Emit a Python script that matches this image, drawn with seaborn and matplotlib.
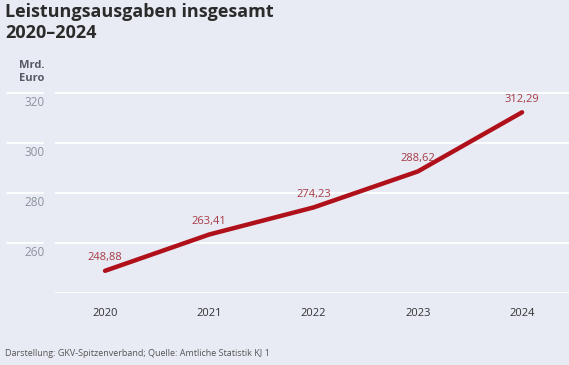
import matplotlib
matplotlib.use("Agg")
import matplotlib.pyplot as plt
import matplotlib.transforms as mtrans
from matplotlib.lines import Line2D
import seaborn as sns
import pandas as pd

years = [2020, 2021, 2022, 2023, 2024]
values = [248.88, 263.41, 274.23, 288.62, 312.29]
value_labels = ["248,88", "263,41", "274,23", "288,62", "312,29"]
yticks = [240, 260, 280, 300, 320]
ytick_labels = ["", "260", "280", "300", "320"]

BG = "#e8ebf3"
sns.set_theme(style="white")
plt.rcParams["font.family"] = ["Open Sans", "DejaVu Sans"]

W, H = 569, 365
fig = plt.figure(figsize=(W / 100, H / 100), dpi=100, facecolor=BG)
left, right, top, bottom = 55, 569, 89, 293
ax = fig.add_axes([left / W, 1 - bottom / H, (right - left) / W, (bottom - top) / H])
ax.set_facecolor(BG)

df = pd.DataFrame({"Jahr": years, "Wert": values})

sns.lineplot(data=df, x="Jahr", y="Wert", ax=ax, color="#b0101a", lw=3.2,
             solid_capstyle="round", zorder=3)

for x, y, s in zip(years, values, value_labels):
    ax.annotate(s, (x, y), xytext=(0, 5.5), textcoords="offset points",
                ha="center", va="bottom", fontsize=8, color="#a63a46")

ax.set_xlim(2020 - 0.48, 2024 + 0.45)
ax.set_ylim(240, 321.6)

side = mtrans.blended_transform_factory(fig.transFigure, ax.transData)
for t in yticks:
    ax.axhline(t, color="white", lw=1.3, zorder=0)
    if t != 240:
        fig.add_artist(Line2D([7 / W, 43 / W], [t, t], transform=side,
                              color="white", lw=1.3, zorder=0))

ax.set_xticks(years)
ax.set_xticklabels([str(y) for y in years], fontsize=8, color="#333333")
ax.set_yticks(yticks)
ax.set_yticklabels(ytick_labels, fontsize=8.5, color="#8d929c", va="top")
ax.tick_params(axis="x", length=0, pad=11)
ax.tick_params(axis="y", length=0, pad=7.5)
off = mtrans.ScaledTranslation(0, -3 / 100, fig.dpi_scale_trans)
for lab in ax.get_yticklabels():
    lab.set_transform(lab.get_transform() + off)
ax.set_xlabel("")
ax.set_ylabel("")
for sp in ax.spines.values():
    sp.set_visible(False)

fig.text(5 / W, 1 - 3 / H, "Leistungsausgaben insgesamt\n2020–2024", ha="left", va="top",
         fontsize=13, fontweight="bold", color="#2b2b2b", linespacing=1.2)
fig.text(32 / W, 1 - 60 / H, "Mrd.\nEuro", ha="center", va="top",
         fontsize=8, fontweight="bold", color="#555a64", linespacing=1.2)
fig.text(5 / W, 1 - 354 / H, "Darstellung: GKV-Spitzenverband; Quelle: Amtliche Statistik KJ 1",
         ha="left", va="center", fontsize=6.5, color="#555555")

fig.savefig("out.png", dpi=100, facecolor=BG)
